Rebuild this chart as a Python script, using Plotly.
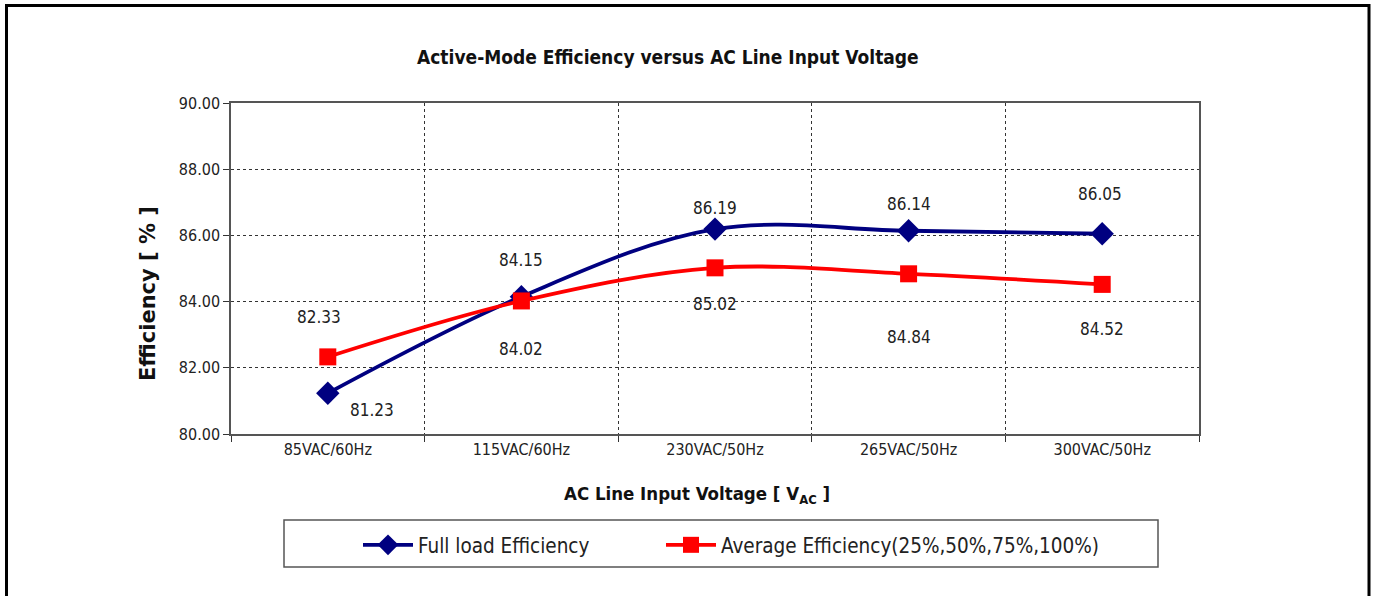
import plotly.graph_objects as go

categories = ["85VAC/60Hz", "115VAC/60Hz", "230VAC/50Hz", "265VAC/50Hz", "300VAC/50Hz"]
full_load = [81.23, 84.15, 86.19, 86.14, 86.05]
average = [82.33, 84.02, 85.02, 84.84, 84.52]
y_ticks = [80, 82, 84, 86, 88, 90]

# label offsets in pixels (xshift, yshift) relative to markers
full_off = [(44, -17), (0, 37), (0, 21), (0, 27), (-2, 40)]
avg_off = [(-9, 40), (0, -48), (0, -36), (0, -63), (0, -45)]

FONT = "DejaVu Sans Condensed, DejaVu Sans, sans-serif"

W, H = 1375, 596
L, T = 231, 103
PW, PH = 968, 331


def px(x):
    return (x - L) / PW


def py(y):
    return (T + PH - y) / PH


fig = go.Figure()
fig.add_trace(go.Scatter(
    x=categories, y=full_load, name="Full load Efficiency",
    mode="lines+markers",
    line=dict(color="#000080", width=3.8, shape="spline", smoothing=1.0),
    marker=dict(symbol="diamond", size=18, color="#000080"),
    legend="legend",
))
fig.add_trace(go.Scatter(
    x=categories, y=average, name="Average Efficiency(25%,50%,75%,100%)",
    mode="lines+markers",
    line=dict(color="#FF0000", width=3.8, shape="spline", smoothing=1.0),
    marker=dict(symbol="square", size=17, color="#FF0000"),
    legend="legend2",
))

annotations = []
for c, v, (dx, dy) in zip(categories, full_load, full_off):
    annotations.append(dict(x=c, y=v, text=f"{v:.2f}", showarrow=False,
                            xshift=dx, yshift=dy, font=dict(size=17, color="#222", family=FONT)))
for c, v, (dx, dy) in zip(categories, average, avg_off):
    annotations.append(dict(x=c, y=v, text=f"{v:.2f}", showarrow=False,
                            xshift=dx, yshift=dy, font=dict(size=17, color="#222", family=FONT)))

annotations.append(dict(xref="paper", yref="paper", x=px(668), y=py(57),
                        xanchor="center", yanchor="middle",
                        text="<b>Active-Mode Efficiency versus AC Line Input Voltage</b>",
                        showarrow=False, font=dict(size=19, color="#111", family=FONT)))
annotations.append(dict(xref="paper", yref="paper", x=px(148), y=py(294),
                        xanchor="center", yanchor="middle",
                        text="<b>Efficiency [ % ]</b>", textangle=-90, showarrow=False,
                        font=dict(size=21, color="#111", family="DejaVu Sans")))
annotations.append(dict(xref="paper", yref="paper", x=px(697), y=py(495),
                        xanchor="center", yanchor="middle",
                        text="<b>AC Line Input Voltage [ V<sub>AC</sub> ]</b>", showarrow=False,
                        font=dict(size=18.5, color="#111", family=FONT)))

legend_style = dict(orientation="h", xanchor="left", yanchor="middle",
                    font=dict(size=20.5, family=FONT, color="#222"),
                    bgcolor="rgba(0,0,0,0)", itemwidth=50)

fig.update_layout(
    width=W, height=H,
    margin=dict(l=L, r=W - L - PW, t=T, b=H - T - PH),
    paper_bgcolor="white", plot_bgcolor="white",
    font=dict(family=FONT, color="#222"),
    annotations=annotations,
    showlegend=True,
    legend=dict(x=px(358), y=py(545), **legend_style),
    legend2=dict(x=px(661), y=py(545), **legend_style),
    shapes=[
        dict(type="rect", xref="paper", yref="paper",
             x0=px(284), x1=px(1158), y0=py(567), y1=py(520),
             line=dict(color="#555", width=1.5)),
        dict(type="rect", xref="paper", yref="paper",
             x0=px(6.5), x1=px(1369), y0=py(610), y1=py(5.5),
             line=dict(color="black", width=3)),
    ],
)
fig.update_xaxes(
    type="category", range=[-0.5, len(categories) - 0.5], tickson="boundaries",
    showgrid=True, griddash="dot",
    gridcolor="#333", gridwidth=1, ticks="outside", ticklen=6, tickcolor="#333",
    showline=True, linecolor="#555", linewidth=1.5, mirror=True,
    tickfont=dict(size=16, family=FONT, color="#222"),
)
fig.update_yaxes(
    range=[80, 90], tickvals=y_ticks, tickformat=".2f", showgrid=True, griddash="dot",
    gridcolor="#333", gridwidth=1, ticks="outside", ticklen=6, tickcolor="#333",
    showline=True, linecolor="#555", linewidth=1.5, mirror=True, zeroline=False,
    tickfont=dict(size=16, family=FONT, color="#222"),
)
fig.write_html("out.html", config={"displayModeBar": False},
               post_script="document.body.style.margin='0';document.body.style.overflow='hidden';")
